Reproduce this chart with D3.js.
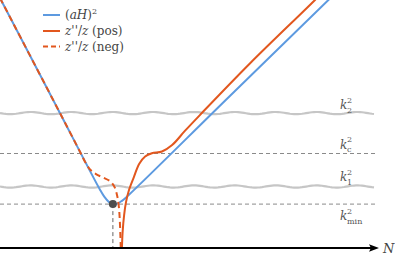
<!DOCTYPE html>
<html lang="en">
<head>
<meta charset="UTF-8">
<title>Horizon crossing</title>
<script src="https://d3js.org/d3.v7.min.js"></script>
<style>
  body { margin: 0; background: #fff; }
  svg { display: block; }
  svg text { font-family: "DejaVu Serif", "Liberation Serif", "Times New Roman", serif; }
  .it { font-style: italic; }
</style>
</head>
<body>
<svg width="395" height="260"></svg>
<script>
// (aH)^2 curve: N (e-folds) and log k^2 values
const blueN = [0, 1.4, 2.67, 2.78, 2.9, 3.01, 3.13, 3.25, 3.37, 6.13, 9.07];
const blueV = [10.08, 6.02, 2.34, 2.07, 1.86, 1.77, 1.79, 1.9, 2.05, 6.13, 10.46];

// z''/z, positive branch
const posN = [8.85, 8.4, 6.67, 5.33, 4.93, 4.59, 4.32, 4.05, 3.87, 3.71, 3.57, 3.44, 3.36, 3.31, 3.27, 3.24];
const posV = [10.69, 10.0, 7.45, 5.36, 4.72, 4.15, 3.89, 3.82, 3.69, 3.39, 2.86, 2.34, 1.85, 1.33, 0.65, -0.56];

// z''/z, negative branch
const negN = [0, 1.4, 2.13, 2.27, 2.4, 2.56, 2.75, 2.93, 3.04, 3.12, 3.17, 3.2, 3.23];
const negV = [10.08, 6.02, 3.89, 3.47, 3.17, 2.98, 2.84, 2.7, 2.5, 2.14, 1.65, 0.93, -0.56];

// reference scales k^2
const levelNames = ["2", "c", "1", "min"];
const levelV = [5.44, 3.81, 2.48, 1.77];
const levelWavy = [true, false, true, false];

const blue = "#5d9ae0", orange = "#e2571e";

const svg = d3.select("svg");
const x = d3.scaleLinear().domain([0, 10]).range([0, 375]);
const y = d3.scaleLinear().domain([0, 10]).range([248, 0]);

svg.append("defs").append("clipPath").attr("id", "plot")
  .append("rect").attr("x", 0).attr("y", 0).attr("width", 395).attr("height", 248);

const line = d3.line()
  .x(d => x(d[0])).y(d => y(d[1]))
  .curve(d3.curveCatmullRom.alpha(0.5));

// wavy decoration for the k1, k2 lines
function wavy(yy) {
  const pts = d3.range(0, 376, 2).map(px => [px, yy + 1.1 * Math.sin(px / 6.5)]);
  return d3.line()(pts);
}

const g = svg.append("g").attr("clip-path", "url(#plot)");

levelV.forEach((v, i) => {
  if (levelWavy[i]) {
    g.append("path").attr("d", wavy(y(v)))
      .attr("fill", "none").attr("stroke", "#c6c6c6").attr("stroke-width", 2.2);
  } else {
    g.append("line")
      .attr("x1", 0).attr("x2", 375).attr("y1", y(v)).attr("y2", y(v))
      .attr("stroke", "#8a8a8a").attr("stroke-width", 1).attr("stroke-dasharray", "4,3");
  }
});

// vertical drop from the minimum
const iMin = 5;
g.append("line")
  .attr("x1", x(blueN[iMin])).attr("x2", x(blueN[iMin]))
  .attr("y1", y(blueV[iMin])).attr("y2", y(0))
  .attr("stroke", "#666").attr("stroke-width", 1).attr("stroke-dasharray", "4,3");

g.append("path").datum(d3.zip(blueN, blueV)).attr("d", line)
  .attr("fill", "none").attr("stroke", blue).attr("stroke-width", 2);

g.append("path").datum(d3.zip(posN, posV)).attr("d", line)
  .attr("fill", "none").attr("stroke", orange).attr("stroke-width", 2);

g.append("path").datum(d3.zip(negN, negV)).attr("d", line)
  .attr("fill", "none").attr("stroke", orange).attr("stroke-width", 2)
  .attr("stroke-dasharray", "6,4");

svg.append("circle")
  .attr("cx", x(blueN[iMin])).attr("cy", y(blueV[iMin])).attr("r", 4)
  .attr("fill", "#4d4d4d");

// N axis with arrow
svg.append("line")
  .attr("x1", 0).attr("x2", 372).attr("y1", y(0)).attr("y2", y(0))
  .attr("stroke", "#000").attr("stroke-width", 2);
svg.append("path")
  .attr("d", `M379,${y(0)} L369,${y(0) - 3.8} L371,${y(0)} L369,${y(0) + 3.8} Z`)
  .attr("fill", "#000");
svg.append("text").attr("class", "it").attr("fill", "#444")
  .attr("x", 383).attr("y", y(0) + 4.5).attr("font-size", 13).text("N");

// level labels
const labelDy = [-4, -5, -5, 16];
levelNames.forEach((name, i) => {
  const by = y(levelV[i]) + labelDy[i];
  const t = svg.append("text").attr("fill", "#555").attr("font-size", 12);
  t.append("tspan").attr("class", "it").attr("x", 340).attr("y", by).text("k");
  t.append("tspan").attr("x", 347).attr("y", by - 6.5).attr("font-size", 8).text("2");
  t.append("tspan").attr("x", 347).attr("y", by + 3.5).attr("font-size", 8).text(name);
});

// legend
const legendRows = [
  { y: 15, color: blue, dash: null },
  { y: 31, color: orange, dash: null },
  { y: 46.5, color: orange, dash: "5,3" }
];
legendRows.forEach(r => {
  svg.append("line").attr("x1", 43).attr("x2", 60).attr("y1", r.y).attr("y2", r.y)
    .attr("stroke", r.color).attr("stroke-width", 2)
    .attr("stroke-dasharray", r.dash);
});

const t1 = svg.append("text").attr("fill", "#444")
  .attr("font-size", 12).attr("x", 65).attr("y", legendRows[0].y + 4);
t1.append("tspan").text("(");
t1.append("tspan").attr("class", "it").text("aH");
t1.append("tspan").text(")");
t1.append("tspan").attr("dy", -5).attr("font-size", 8).text("2");

["pos", "neg"].forEach((s, i) => {
  const t = svg.append("text").attr("fill", "#444")
    .attr("font-size", 12).attr("x", 65).attr("y", legendRows[i + 1].y + 4);
  t.append("tspan").attr("class", "it").text("z");
  t.append("tspan").text("''/");
  t.append("tspan").attr("class", "it").text("z");
  t.append("tspan").text(" (" + s + ")");
});
</script>
</body>
</html>
